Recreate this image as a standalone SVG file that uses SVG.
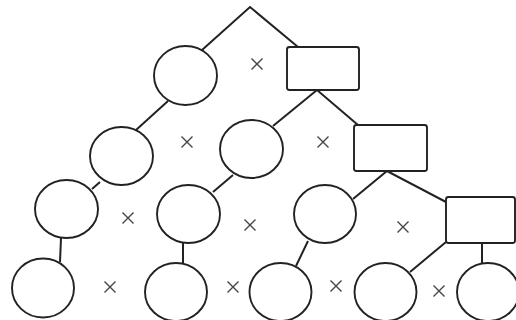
<svg xmlns="http://www.w3.org/2000/svg" width="516" height="320" viewBox="0 0 516 320">
<defs>
<style>
.n{fill:#fff;stroke:#222;stroke-width:1.9}
.e{fill:none;stroke:#222;stroke-width:2}
.x{fill:none;stroke:#444;stroke-width:1.4}
</style>
<path id="mx" class="x" d="M-5.5,-5.5L5.5,5.5M5.5,-5.5L-5.5,5.5"/>
</defs>
<rect width="516" height="320" fill="#fff"/>
<g id="connectors">
<path class="e" d="M202,50L250,7L298,47"/>
<path class="e" d="M168,101L136,130"/>
<path class="e" d="M273,126L317,90L358,125"/>
<path class="e" d="M100,182L92,189"/>
<path class="e" d="M233,175L213,192"/>
<path class="e" d="M353,199L387,171L446,202"/>
<path class="e" d="M61,238L60,262"/>
<path class="e" d="M183,243L183,264"/>
<path class="e" d="M308,241L296,266"/>
<path class="e" d="M446,242L410,272"/>
<path class="e" d="M482,243L482,263"/>
</g>
<g id="c1"><ellipse class="n" cx="185.5" cy="75.5" rx="31.5" ry="29.5"/></g>
<g id="r1"><rect class="n" x="287" y="47" width="72" height="43" rx="2.5"/></g>
<g id="c2a"><ellipse class="n" cx="121.5" cy="156" rx="31.5" ry="29"/></g>
<g id="c2b"><ellipse class="n" cx="251.5" cy="149" rx="31.5" ry="29"/></g>
<g id="r2"><rect class="n" x="354" y="125" width="73" height="46" rx="2.5"/></g>
<g id="c3a"><ellipse class="n" cx="66.5" cy="209" rx="31.5" ry="29"/></g>
<g id="c3b"><ellipse class="n" cx="188.5" cy="214" rx="31.5" ry="29"/></g>
<g id="c3c"><ellipse class="n" cx="325" cy="214" rx="31" ry="29"/></g>
<g id="r3"><rect class="n" x="446" y="197" width="69" height="46" rx="2.5"/></g>
<g id="c4a"><ellipse class="n" cx="43" cy="288" rx="31" ry="29.5"/></g>
<g id="c4b"><ellipse class="n" cx="176" cy="292" rx="31" ry="29"/></g>
<g id="c4c"><ellipse class="n" cx="280.5" cy="292" rx="31" ry="29"/></g>
<g id="c4d"><ellipse class="n" cx="385.5" cy="292" rx="31" ry="29"/></g>
<g id="c4e"><ellipse class="n" cx="488" cy="292" rx="31" ry="29"/></g>
<g id="times">
<use href="#mx" x="257" y="64"/>
<use href="#mx" x="187" y="142"/>
<use href="#mx" x="323" y="142"/>
<use href="#mx" x="128" y="218"/>
<use href="#mx" x="250" y="225"/>
<use href="#mx" x="403" y="227"/>
<use href="#mx" x="110" y="287"/>
<use href="#mx" x="233" y="287"/>
<use href="#mx" x="336" y="286"/>
<use href="#mx" x="439" y="291"/>
</g>
</svg>
